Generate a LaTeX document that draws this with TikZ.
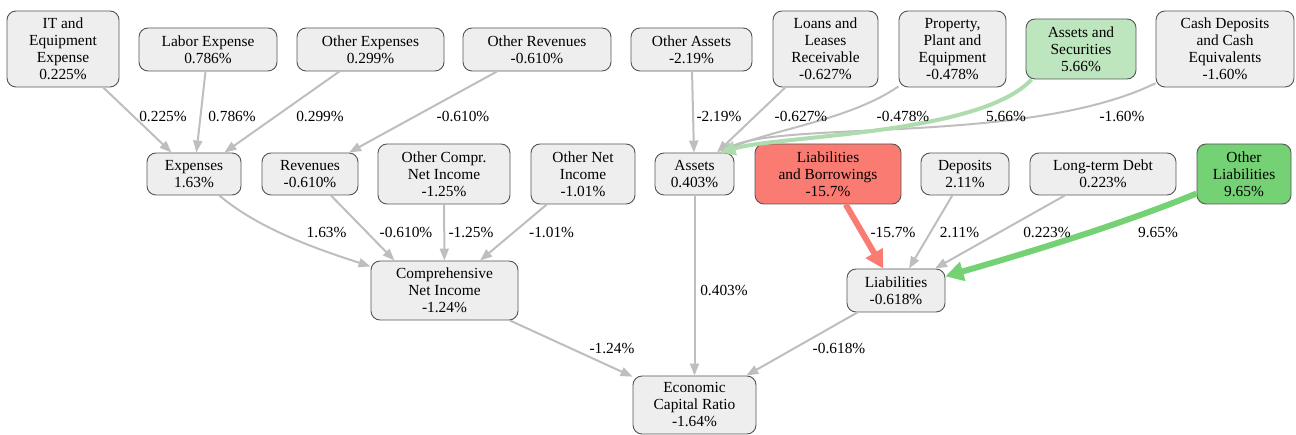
\documentclass[tikz,border=0pt]{standalone}
\usepackage{fontspec}
\setmainfont{Liberation Serif}
\newfontfamily\diagfont{Liberation Serif}
\usetikzlibrary{arrows.meta}

\definecolor{nodefill}{HTML}{EEEEEE}
\definecolor{nodeline}{HTML}{555555}
\definecolor{edgegray}{HTML}{BEBEBE}
\definecolor{lossred}{HTML}{FA7B72}
\definecolor{gainlight}{HTML}{BEE6BE}
\definecolor{gainedge}{HTML}{AEDCAE}
\definecolor{gainstrong}{HTML}{74D174}

\begin{document}
\begin{tikzpicture}[
  x=1pt, y=-1pt,
  box/.style={rectangle, rounded corners=9pt, draw=nodeline, line width=0.9pt,
    fill=nodefill, align=center, inner sep=0pt,
    font=\diagfont\fontsize{15.4pt}{17pt}\selectfont},
  sz/.style 2 args={minimum width=#1pt, minimum height=#2pt},
  lab/.style={inner sep=0pt, font=\diagfont\fontsize{15.4pt}{17pt}\selectfont},
  edge/.style={draw=edgegray, line width=2pt, -{Triangle[length=12pt,width=9pt]}},
  thick edge/.style={line width=6pt, -{Triangle[length=18pt,width=19pt]}}
]
\useasboundingbox (0,0) rectangle (1296,435);

% =======================
% Top row: drivers
% =======================
\node[box, sz={112}{76}] (it) at (63,49) {IT and\\Equipment\\Expense\\0.225\%};
\node[box, sz={138}{43}] (labor) at (208,49.5) {Labor Expense\\0.786\%};
\node[box, sz={147}{43}] (othexp) at (370.5,49.5) {Other Expenses\\0.299\%};
\node[box, sz={148}{43}] (othrev) at (537,49.5) {Other Revenues\\-0.610\%};
\node[box, sz={121}{43}] (othassets) at (691.5,49.5) {Other Assets\\-2.19\%};
\node[box, sz={105}{76}] (loans) at (825.5,49) {Loans and\\Leases\\Receivable\\-0.627\%};
\node[box, sz={107}{76}] (ppe) at (952.5,49) {Property,\\Plant and\\Equipment\\-0.478\%};
\node[box, sz={110}{60}, fill=gainlight] (assec) at (1081,49) {Assets and\\Securities\\5.66\%};
\node[box, sz={138}{76}] (cash) at (1225,49) {Cash Deposits\\and Cash\\Equivalents\\-1.60\%};

% =======================
% Middle row
% =======================
\node[box, sz={94}{42}] (expenses) at (194,174) {Expenses\\1.63\%};
\node[box, sz={96}{42}] (revenues) at (310,174) {Revenues\\-0.610\%};
\node[box, sz={132}{60}] (othci) at (444,174) {Other Compr.\\Net Income\\-1.25\%};
\node[box, sz={104}{60}] (othni) at (583,174) {Other Net\\Income\\-1.01\%};
\node[box, sz={79}{42}] (assets) at (694.5,174) {Assets\\0.403\%};
\node[box, sz={146}{60}, fill=lossred] (liabb) at (828,174) {Liabilities\\and Borrowings\\-15.7\%};
\node[box, sz={88}{42}] (deposits) at (965,174) {Deposits\\2.11\%};
\node[box, sz={146}{42}] (ltdebt) at (1103,174) {Long-term Debt\\0.223\%};
\node[box, sz={94}{60}, fill=gainstrong] (othliab) at (1244,174) {Other\\Liabilities\\9.65\%};

% =======================
% Lower rows
% =======================
\node[box, sz={147}{59}] (cni) at (444.5,290.5) {Comprehensive\\Net Income\\-1.24\%};
\node[box, sz={98}{43}] (liab) at (896,290.5) {Liabilities\\-0.618\%};
\node[box, sz={123}{58}] (ecr) at (694.5,405) {Economic\\Capital Ratio\\-1.64\%};

% Straight gray edges
\foreach \u/\v in {it/expenses,labor/expenses,othexp/expenses,othrev/revenues,
  othassets/assets,loans/assets,othci/cni,othni/cni,cni/ecr,assets/ecr,
  liab/ecr,deposits/liab,ltdebt/liab}{
  \draw[edge] (\u) -- (\v);
}
\draw[edge] (revenues) -- ([xshift=-50pt]cni.north);

% Curved edges
\draw[edge] (expenses) .. controls (260,230) and (320,250) .. (cni);
\draw[edge] (ppe) .. controls (850,120) and (770,130) .. ([xshift=26pt]assets.north);
\draw[edge] (cash) .. controls (1030,145) and (780,120) .. ([xshift=26pt]assets.north);
\draw[draw=gainedge, line width=4pt, -{Triangle[length=15pt,width=14pt]}]
  ([xshift=6pt]assec.south west) .. controls (980,135) and (780,135) .. ([xshift=26pt]assets.north);

% Coloured thick edges
\draw[draw=lossred, thick edge] (liabb) -- (liab);
\draw[draw=gainstrong, thick edge] (othliab) .. controls (1120,225) and (1020,255) .. (liab);

% =======================
% Edge labels
% =======================
\node[lab] (lit) at (163,116) {0.225\%};
\node[lab] (llabor) at (232,116) {0.786\%};
\node[lab] (lothexp) at (320,116) {0.299\%};
\node[lab] (lothrev) at (463,116) {-0.610\%};
\node[lab] (lothassets) at (719,116) {-2.19\%};
\node[lab] (lloans) at (801,116) {-0.627\%};
\node[lab] (lppe) at (903,116) {-0.478\%};
\node[lab] (lassec) at (1006,116) {5.66\%};
\node[lab] (lcash) at (1122,116) {-1.60\%};

\node[lab] (lexpenses) at (326.6,232) {1.63\%};
\node[lab] (lrevenues) at (406,232) {-0.610\%};
\node[lab] (lothci) at (471,232) {-1.25\%};
\node[lab] (lothni) at (551.6,232) {-1.01\%};
\node[lab] (lliabb) at (893,232) {-15.7\%};
\node[lab] (ldeposits) at (959.5,232) {2.11\%};
\node[lab] (lltdebt) at (1047,232) {0.223\%};
\node[lab] (lothliab) at (1158,232) {9.65\%};

\node[lab] (lassets) at (724,290) {0.403\%};
\node[lab] (lcni) at (612,348) {-1.24\%};
\node[lab] (lliab) at (839,348) {-0.618\%};
\end{tikzpicture}
\end{document}
